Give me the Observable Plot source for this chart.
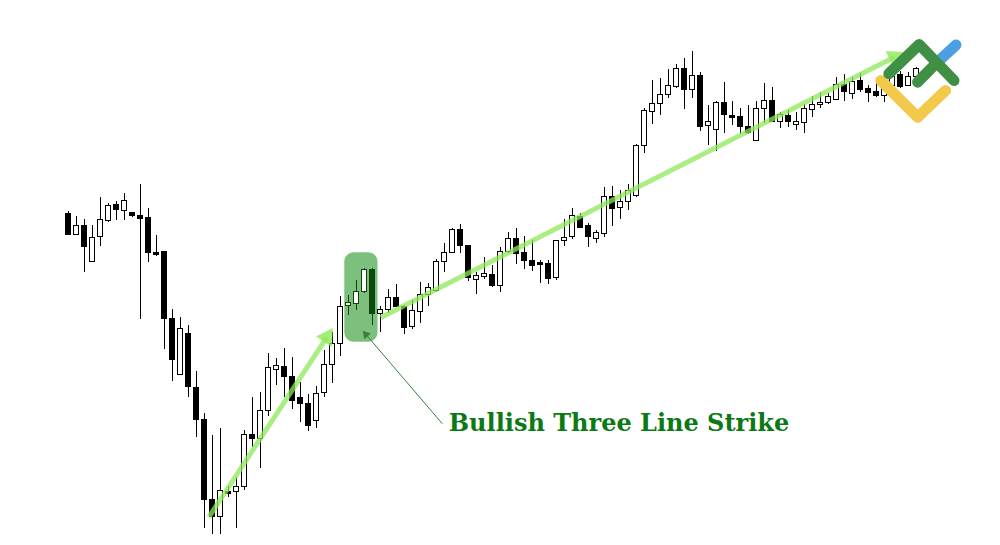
<!DOCTYPE html>
<html><head><meta charset="utf-8">
<script src="https://cdn.jsdelivr.net/npm/d3@7"></script>
<script src="https://cdn.jsdelivr.net/npm/@observablehq/plot@0.6"></script>
<style>html,body{margin:0;padding:0;background:#fff;overflow:hidden}</style>
</head><body><div id="chart"></div>
<script>
// OHLC values (arbitrary price units)
const opens = [331.7,310.7,320,284,308.3,324.3,341,334.7,332.7,330,327.3,293,293.3,226.7,171,211.7,157.7,126,45.7,28.3,53.7,53.3,58.3,111,106.7,135,175.7,179,169,147.7,141.7,125,152.3,181,201.7,239.7,241.7,253.3,276,231.7,235.7,247.7,239,218.3,234,250.7,254.5,283.7,292.3,315.7,300,265.7,268.3,270.7,259.3,293.3,306.7,292.3,285,282.7,282,267.5,304.7,308.3,328.3,320,306.7,311.7,349,337.7,343.3,350,400,434,441.7,451,459,476.7,455.7,470,419.5,415.7,443,430,428.5,419,405,436.7,445,423.3,430,420.7,422.3,435.3,440.7,442.3,445.7,461,451.7,464.3,456.7,454,450,460,471,460,468.3];
const highs = [334,329,326,320,348,341.7,344,352.3,333.3,361,336.7,310,294,236,227.7,220,174.3,131.7,110,117.3,59,68.3,115,147.7,153.3,192.3,186.7,197.3,187.7,163.3,151,159,195,213.3,249,250,265,276.7,276.7,239,255.7,261,240,245,263.3,262,286.5,302,316.7,321,300,273.3,287.7,280,298.3,312.7,317.3,309,305,285,285,305.5,325.7,336.7,331.7,322.3,315,357.7,359,355,361,401,436.7,465,467.3,475.7,481,486.7,494,472.7,440,444.3,463.3,444,436.7,440,444,461.7,457.7,433.3,435,433.3,441,449.5,453.3,452.3,468.3,470.7,468.3,471.7,460,466.7,468.3,471.7,474.3,473.3,477.7];
const lows = [310,310,273.3,282.7,299.3,323.3,325,325,328.3,226,283.3,289.3,195.7,164.3,170,148.3,107.7,16.7,10.7,10.7,48.3,16.7,55,97.7,76.7,129,160,148.3,135.7,123.3,114.3,116.7,147.7,162.3,189.3,230,235,251.7,220,213.3,231.7,238.3,210.7,215.7,221.7,239.5,253.3,273.3,291.7,292.3,264.3,251,265.7,258.3,253.3,292.3,280.7,275.7,274.3,262.3,261.5,265,299,305.7,316.7,298.3,302.3,308.3,319,326,335.5,348.3,392.3,420.7,430,446.7,457.3,435.7,446.7,414.3,400,394,412.3,420,411,411,404,421.7,422.7,417.3,418.3,415,412.3,427.7,436.7,441,445,444,445.7,453.3,443.3,448.3,443.3,459,456.7,459,466.7];
const closes = [311,320,298.3,307.3,326,340,335.3,345,329.3,326.7,292.7,291,226.7,185.7,216.7,158.3,125.7,46,29,54.3,51.7,58.3,111,106.3,135,177.7,179.7,168.3,144.3,141.7,119.3,151.7,181,201.7,239,243,254,276,231.7,236,247.7,239,217.7,234.3,250.7,257.5,283.5,292.5,315.7,299.3,267.3,269.3,271.7,259.3,294,306.7,291.7,285,279.3,280.7,266.5,305,307.7,330,317.7,308.3,312.3,349,336.7,344,354.5,400,435,441.7,451,460,476.7,455.7,470,419,424,443,430.7,427.3,419,412.7,436.7,445,424,430.7,423.3,423.3,436.5,440.8,442.3,449,461,453.3,464,456,452.3,449.3,458.3,468.3,458.3,469,476.7];

// pattern highlight (candle index range / price range) and its candles
const patternBox = [{x1: 34.6, x2: 38.75, y1: 203.3, y2: 292.7}];
const patternIdx = [35, 36, 37, 38];

// trend arrows: [startIndex, startPrice, tipIndex, tipPrice]
const trendArrows = [
  {x1: 17.6, y1: 28.3, x2: 33.05, y2: 216.7},
  {x1: 39.1, y1: 228, x2: 104.45, y2: 493}
];
// annotation
const labelText = ["Bullish Three Line Strike"];
const pointer = [{x1: 46.8, y1: 121.7, x2: 37.0, y2: 213.3}];
const labelPos = [{x: 47.6, y: 121.8}];

// logo polylines (index / price units)
const logoBlue = [{x: 108.5, y: 482}, {x: 111.0, y: 500.5}];
const logoYellow = [{x: 101.6, y: 465}, {x: 106.2, y: 428.3}, {x: 109.7, y: 455}];
const logoGreenA = [{x: 102.6, y: 471.7}, {x: 106.4, y: 501}, {x: 110.75, y: 465}];
const logoGreenB = [{x: 106.2, y: 463.3}, {x: 108.5, y: 482}];

const candles = opens.map((o, i) => ({i, open: o, high: highs[i], low: lows[i], close: closes[i]}));

const W = 1000, H = 545;
const xDomain = [-67.5 / 8, (W - 67.5) / 8];
const yDomain = [0, 545];
const sx = d3.scaleLinear(xDomain, [0, W]);
const sy = d3.scaleLinear(yDomain, [H, 0]);

// arrowheads: compute direction in pixel space
const headBack = 10; // px from tip to symbol center
const heads = trendArrows.map(a => {
  const dx = sx(a.x2) - sx(a.x1), dy = sy(a.y2) - sy(a.y1);
  const len = Math.hypot(dx, dy);
  const ux = dx / len, uy = dy / len;
  const cx = sx(a.x2) - ux * headBack, cy = sy(a.y2) - uy * headBack;
  return {x: sx.invert(cx), y: sy.invert(cy), angle: Math.atan2(dx, -dy) * 180 / Math.PI};
});
const shafts = trendArrows.map((a, k) => ({x1: a.x1, y1: a.y1, x2: heads[k].x, y2: heads[k].y}));
// small filled head for the pointer
const pointerHead = pointer.map(a => {
  const dx = sx(a.x2) - sx(a.x1), dy = sy(a.y2) - sy(a.y1);
  const len = Math.hypot(dx, dy);
  const cx = sx(a.x2) - dx / len * 3, cy = sy(a.y2) - dy / len * 3;
  return {x: sx.invert(cx), y: sy.invert(cy), angle: Math.atan2(dx, -dy) * 180 / Math.PI};
});

const inBox = d => patternIdx.includes(d.i);
const boxDark = "#0d460d";

const plot = Plot.plot({
  width: W, height: H, margin: 0,
  x: {domain: xDomain, axis: null},
  y: {domain: yDomain, axis: null},
  marks: [
    Plot.rect(patternBox, {x1: "x1", x2: "x2", y1: "y1", y2: "y2", fill: "#7dbf7d", rx: 9}),
    Plot.ruleX(candles, {x: "i", y1: "low", y2: "high", stroke: d => inBox(d) ? boxDark : "black", strokeWidth: 1, shapeRendering: "crispEdges"}),
    Plot.rect(candles, {
      x1: d => d.i - 0.3125, x2: d => d.i + 0.3125,
      y1: d => Math.min(d.open, d.close), y2: d => Math.max(d.open, d.close),
      fill: d => d.close >= d.open ? "white" : (inBox(d) ? "#0b4a0b" : "black"),
      stroke: d => inBox(d) ? boxDark : "black", strokeWidth: 1, shapeRendering: "crispEdges"
    }),
    Plot.link(shafts, {x1: "x1", y1: "y1", x2: "x2", y2: "y2", stroke: "#8ee85a", strokeWidth: 5, strokeOpacity: 0.75}),
    Plot.dot(heads, {x: "x", y: "y", symbol: "triangle", r: 7, fill: "#8ee85a", fillOpacity: 0.8, stroke: "none", rotate: "angle"}),
    Plot.link(pointer, {x1: "x1", y1: "y1", x2: "x2", y2: "y2", stroke: "#3b7f3b", strokeWidth: 1}),
    Plot.dot(pointerHead, {x: "x", y: "y", symbol: "triangle", r: 3.2, fill: "#3b7f3b", stroke: "none", rotate: "angle"}),
    Plot.text(labelText, {x: () => labelPos[0].x, y: () => labelPos[0].y, text: d => d, textAnchor: "start", lineAnchor: "middle",
      fill: "#0b7a14", fontSize: 24, fontWeight: "bold", fontFamily: "DejaVu Serif"}),
    Plot.line(logoBlue, {x: "x", y: "y", stroke: "#4c9fe0", strokeWidth: 11, strokeLinecap: "round"}),
    Plot.line(logoYellow, {x: "x", y: "y", stroke: "#f2c94b", strokeWidth: 11, strokeLinecap: "round", strokeLinejoin: "round"}),
    Plot.line(logoGreenA, {x: "x", y: "y", stroke: "#3f8f44", strokeWidth: 11, strokeLinecap: "round", strokeLinejoin: "round"}),
    Plot.line(logoGreenB, {x: "x", y: "y", stroke: "#3f8f44", strokeWidth: 11, strokeLinecap: "round"})
  ]
});
document.getElementById("chart").appendChild(plot);
</script>
</body></html>
